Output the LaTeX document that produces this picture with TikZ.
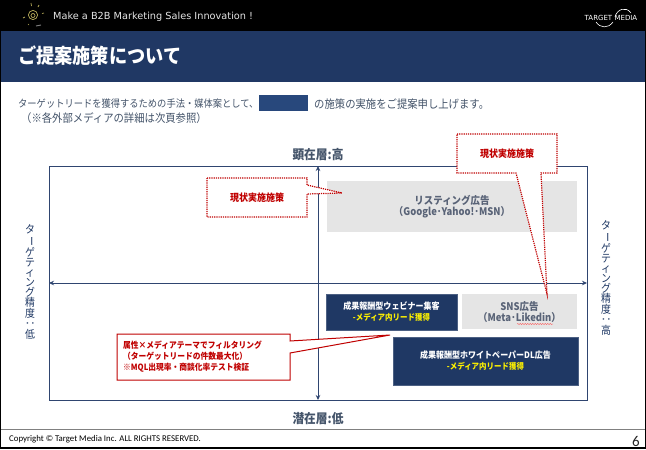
\documentclass[tikz,border=0pt]{standalone}
\usepackage{fontspec}
\usetikzlibrary{arrows.meta,decorations.pathmorphing}
\setmainfont{Noto Sans CJK JP}
\newfontfamily\jpn[FakeStretch=0.9]{Noto Sans CJK JP}
\newfontfamily\hdr{DejaVu Sans}
\newfontfamily\foot{Carlito}
\definecolor{navy}{HTML}{1F3864}
\definecolor{band}{HTML}{203864}
\definecolor{maskc}{HTML}{28487C}
\definecolor{axisc}{HTML}{2F4570}
\definecolor{greybox}{HTML}{E5E5E5}
\definecolor{greytxt}{HTML}{596377}
\definecolor{redc}{HTML}{C00000}
\definecolor{bodytxt}{HTML}{44546A}
\definecolor{lamp}{HTML}{B8AC5A}
\newcommand{\px}[1]{\fontsize{#1pt}{#1pt}\selectfont}
\newcommand{\pxl}[2]{\fontsize{#1pt}{#2pt}\selectfont}
\newcommand{\vb}{\rotatebox[origin=c]{-90}{ー}}
\newcommand{\vc}{\rotatebox[origin=c]{-90}{：}}
\tikzset{
  x=1pt,y=-1pt,
  grey box/.style={fill=greybox,draw=none,anchor=north west,inner sep=0},
  navy box/.style={fill=navy,draw=navy!80!white,line width=.4pt,anchor=north west,inner sep=0},
  box label/.style={font=\jpn\bfseries\pxl{10.5}{11},align=center,inner sep=0,text=greytxt},
  navy label/.style={font=\jpn\bfseries\pxl{8.9}{11},align=center,inner sep=0,text=white},
  dot callout/.style={draw=redc,fill=white,line width=1.2pt,dash pattern=on 1.2pt off 1pt},
  red label/.style={font=\jpn\bfseries\px{10},text=redc,inner sep=0},
  axis line/.style={draw=axisc,line width=.8pt,{Stealth[length=5pt,width=4.5pt]}-{Stealth[length=5pt,width=4.5pt]}},
  axis label/.style={font=\jpn\bfseries\px{13},text=bodytxt,inner sep=0},
  side label/.style={font=\jpn\pxl{11}{10},text=navy,align=center,inner sep=0},
  body text/.style={text=bodytxt,anchor=west,inner sep=0},
}
\begin{document}
\begin{tikzpicture}
\useasboundingbox (0,0) rectangle (646,450);
\fill[white] (0,0) rectangle (646,450);
% header
\fill[black] (0,0) rectangle (646,31);
\fill[band] (0,31) rectangle (646,82);
\node[font=\hdr\px{9.75},text=white!90!black,anchor=west,inner sep=0] (tagline) at (53,17) {Make a B2B Marketing Sales Innovation !};
\node[font=\jpn\bfseries\px{20.2},text=white,anchor=west,inner sep=0] (title) at (18,56) {ご提案施策について};
% bulb logo
\draw[lamp,line width=.7pt] (33,15) circle (4.6) (33,15.5) circle (2);
\draw[lamp,line width=.7pt] (23,18)--(25,17) (31,3)--(31.5,6) (39,5)--(38,7) (44,13)--(42,13.5) (28,24)--(29,25);
\draw[gray,line width=.9pt] (36,26)--(41,25);
% target media logo
\node[font=\hdr\px{7},text=white,anchor=center,inner sep=0] (brand) at (611,18) {TARGET\,\,MEDIA};
\draw[white,line width=.6pt] (615,17) ..controls (617,9) and (626,6) .. (631,13) (596,22) ..controls (600,28) and (608,29) .. (613,22);
% intro
\node[body text,font=\jpn\px{10.3}] (intro1) at (18,104) {ターゲットリードを獲得するための手法・媒体案として、};
\node[fill=maskc,minimum width=49,minimum height=16,anchor=north west,inner sep=0] (mask) at (259,95) {};
\node[body text,font=\jpn\px{11.5}] (intro2) at (314,104) {の施策の実施をご提案申し上げます。};
\node[body text,font=\jpn\px{11.5}] (intro3) at (21,118) {（※各外部メディアの詳細は次頁参照）};
% frame
\node[draw=axisc,line width=1.1pt,minimum width=538,minimum height=234,anchor=north west,inner sep=0] (frame) at (49,166) {};
\coordinate (vtop) at (318,166);
\coordinate (vbot) at (318,400);
\coordinate (hleft) at (49,283);
\coordinate (hright) at (587,283);
\draw[axis line] (vtop) -- (vbot);
\draw[axis line] (hleft) -- (hright);
\node[axis label] (high) at (318,155) {顕在層:高};
\node[axis label] (low) at (318,419) {潜在層:低};
\node[side label] (sideL) at (30,282) {タ\\\vb\\ゲ\\テ\\ィ\\ン\\グ\\精\\度\\\vc\\低};
\node[side label] (sideR) at (606,278) {タ\\\vb\\ゲ\\テ\\ィ\\ン\\グ\\精\\度\\\vc\\高};
% boxes
\node[grey box,minimum width=250,minimum height=51] (listing) at (327,181) {};
\node[box label] (listingT) at (452,206.5) {リスティング広告\\（Google･Yahoo!･MSN）};
\node[grey box,minimum width=115,minimum height=35] (sns) at (462,294) {};
\node[box label] (snsT) at (519.5,312) {SNS広告\\（Meta･Likedin）};
\coordinate (wavyA) at (517,324);
\coordinate (wavyB) at (553,324);
\draw[red!70!white,line width=.4pt,decorate,decoration={snake,amplitude=.5pt,segment length=2.5pt}] (wavyA) -- (wavyB);
\node[navy box,minimum width=131,minimum height=36] (webinar) at (326,294) {};
\node[navy label] (webinarT) at (391.5,312) {成果報酬型ウェビナー集客\\\textcolor{yellow}{\pxl{8.3}{11}-メディア内リード獲得}};
\node[navy box,minimum width=185,minimum height=48] (paper) at (393,337) {};
\node[navy label] (paperT) at (485.5,361) {成果報酬型ホワイトペーパーDL広告\\\textcolor{yellow}{\pxl{8.3}{11}-メディア内リード獲得}};
% callouts
\coordinate (tip1) at (342,193);
\coordinate (tip2) at (547,294);
\coordinate (tip3) at (390,335);
\draw[dot callout] (207,178) -- (307,178) -- (307,185) -- (tip1) -- (307,194) -- (307,217) -- (207,217) -- cycle;
\node[red label] (c1) at (257,197.5) {現状実施施策};
\draw[dot callout] (457,134) -- (557,134) -- (557,173) -- (541,173) -- (tip2) -- (516,173) -- (457,173) -- cycle;
\node[red label] (c2) at (507,154) {現状実施施策};
\draw[draw=redc,fill=white,line width=1pt] (117,334) -- (290,334) -- (290,341) -- (tip3) -- (290,353) -- (290,380) -- (117,380) -- cycle;
\node[font=\jpn\bfseries\pxl{8.6}{11},text=redc,align=left,inner sep=0,anchor=north west] (c3) at (123,340.5) {属性×メディアテーマでフィルタリング\\ （ターゲットリードの件数最大化）\\※MQL出現率・商談化率テスト検証};
% footer
\draw[gray,line width=.7pt] (0,429.5) -- (646,429.5);
\node[font=\foot\px{8.8},text=black,anchor=west,inner sep=0] (copy) at (9,439) {Copyright © Target Media Inc. ALL RIGHTS RESERVED.};
\node[font=\foot\px{15},text=black!85,inner sep=0] (page) at (636,441) {6};
\draw[black,line width=1.2pt] (.6,0) -- (.6,448) -- (645.2,448) -- (645.2,0);
\end{tikzpicture}
\end{document}
